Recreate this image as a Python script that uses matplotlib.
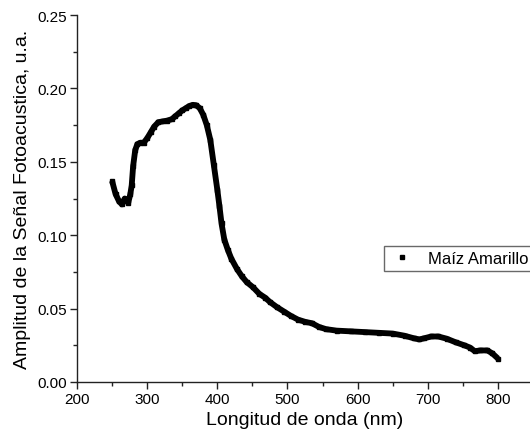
import matplotlib
matplotlib.use("Agg")
import matplotlib.pyplot as plt
from matplotlib.ticker import MultipleLocator

wavelength = [250, 255, 260, 264, 268, 273, 276, 278, 280, 283, 286, 290, 295, 300,
              305, 310, 316, 322, 328, 335, 340, 345, 350, 355, 360, 365, 370, 375,
              380, 385, 390, 395, 400, 403, 406, 410, 415, 420, 428, 435, 442, 451,
              460, 468, 475, 485, 495, 505, 515, 525, 535, 545, 555, 570, 590, 610,
              630, 650, 667, 680, 688, 695, 705, 715, 727, 740, 752, 760, 767, 775,
              785, 792, 800]
amplitude = [0.137, 0.128, 0.123, 0.121, 0.125, 0.122, 0.128, 0.134, 0.147, 0.158,
             0.162, 0.163, 0.163, 0.166, 0.170, 0.174, 0.177, 0.1775, 0.178, 0.179,
             0.181, 0.183, 0.185, 0.1865, 0.188, 0.1888, 0.1885, 0.1865, 0.182, 0.175,
             0.165, 0.148, 0.131, 0.120, 0.108, 0.097, 0.090, 0.084, 0.077, 0.072,
             0.068, 0.0645, 0.060, 0.0575, 0.0545, 0.051, 0.048, 0.045, 0.0425, 0.041,
             0.040, 0.0375, 0.036, 0.035, 0.0345, 0.034, 0.0335, 0.033, 0.0315, 0.0298,
             0.029, 0.0298, 0.031, 0.031, 0.0295, 0.027, 0.025, 0.0235, 0.021, 0.0215,
             0.0215, 0.0195, 0.016]
series_label = "Maíz Amarillo"

plt.rcParams['font.family'] = ['Liberation Sans', 'DejaVu Sans']

fig = plt.figure(figsize=(5.30, 4.39), dpi=100)
ax = fig.add_axes([77/530, 56/439, 456/530, 367/439])

ax.plot(wavelength, amplitude, color='black', lw=4.2, solid_capstyle='butt',
        solid_joinstyle='round')
ax.plot(wavelength, amplitude, 's', color='black', ms=3.5, label=series_label)

ax.set_xlim(200, 850)
ax.set_ylim(0, 0.25)
ax.xaxis.set_minor_locator(MultipleLocator(50))
ax.yaxis.set_minor_locator(MultipleLocator(0.025))
ax.set_yticks([0, 0.05, 0.10, 0.15, 0.20, 0.25])
ax.set_yticklabels(['0.00', '0.05', '0.10', '0.15', '0.20', '0.25'])
ax.set_xticks([200, 300, 400, 500, 600, 700, 800])

for s in ['top', 'right']:
    ax.spines[s].set_visible(False)
for s in ['left', 'bottom']:
    ax.spines[s].set_linewidth(1.0)
    ax.spines[s].set_color('#222222')

ax.tick_params(axis='both', which='major', direction='out', length=5, width=1,
               labelsize=11, color='#222222', pad=2)
ax.tick_params(axis='both', which='minor', direction='out', length=3, width=1,
               color='#222222')

ax.set_xlabel('Longitud de onda (nm)', fontsize=14, labelpad=4)
ax.set_ylabel('Amplitud de la Señal Fotoacustica, u.a.', fontsize=14, labelpad=5)

leg = ax.legend(loc='upper left', bbox_to_anchor=((384 - 77) / 456, (383 - 247) / 367),
                frameon=True, fancybox=False, fontsize=12, handlelength=1.6,
                handletextpad=0.75, borderpad=0.3, borderaxespad=0, markerscale=1.0)
leg.get_frame().set_edgecolor('#444444')
leg.get_frame().set_linewidth(1.0)

fig.savefig('out.png', dpi=100)
